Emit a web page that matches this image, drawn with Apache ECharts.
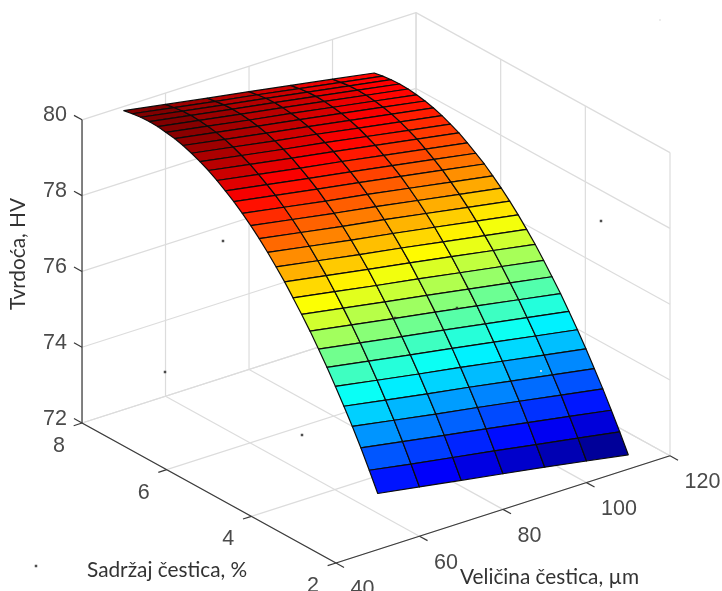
<!DOCTYPE html>
<html><head><meta charset="utf-8">
<style>html,body{margin:0;padding:0;background:#fff}#c{width:722px;height:591px;filter:blur(0.45px)}</style>
<script src="https://cdn.jsdelivr.net/npm/echarts@6/dist/echarts.min.js"></script>
</head><body><div id="c"></div>
<script>
// Data
const sizeTicks = [40, 60, 80, 100, 120];
const contentTicks = [2, 4, 6, 8];
const hardnessTicks = [72, 74, 76, 78, 80];
const sizeName = 'Veličina čestica, µm';
const contentName = 'Sadržaj čestica, %';
const hardnessName = 'Tvrdoća, HV';
const sizes = [50, 60, 70, 80, 90, 100, 110];
const contents = [8,7.8,7.6,7.4,7.2,7,6.8,6.6,6.4,6.2,6,5.8,5.6,5.4,5.2,5,4.8,4.6,4.4,4.2,4,3.8,3.6,3.4,3.2,3,2.8,2.6,2.4,2.2,2];
const hardnessAt50 = [79.89,79.93,79.96,79.97,79.96,79.93,79.89,79.83,79.75,79.65,79.54,79.40,79.25,79.09,78.90,78.70,78.48,78.24,77.98,77.71,77.41,77.10,76.78,76.43,76.07,75.69,75.29,74.88,74.44,73.97,73.48];
const hardnessAt60 = [79.70,79.74,79.77,79.78,79.77,79.74,79.70,79.64,79.56,79.46,79.35,79.21,79.06,78.90,78.71,78.51,78.29,78.05,77.79,77.52,77.22,76.91,76.59,76.24,75.88,75.50,75.10,74.69,74.25,73.78,73.30];
const hardnessAt70 = [79.51,79.55,79.58,79.59,79.58,79.55,79.51,79.45,79.37,79.27,79.16,79.02,78.87,78.71,78.52,78.32,78.10,77.86,77.60,77.33,77.03,76.72,76.40,76.05,75.69,75.31,74.91,74.50,74.06,73.60,73.12];
const hardnessAt80 = [79.33,79.37,79.40,79.41,79.40,79.37,79.33,79.27,79.19,79.09,78.98,78.84,78.69,78.53,78.34,78.14,77.92,77.68,77.42,77.15,76.85,76.54,76.22,75.87,75.51,75.13,74.73,74.32,73.88,73.42,72.94];
const hardnessAt90 = [79.14,79.18,79.21,79.22,79.21,79.18,79.14,79.08,79.00,78.90,78.79,78.65,78.50,78.34,78.15,77.95,77.73,77.49,77.23,76.96,76.66,76.35,76.03,75.68,75.32,74.94,74.54,74.13,73.69,73.23,72.76];
const hardnessAt100 = [78.95,78.99,79.02,79.03,79.02,78.99,78.95,78.89,78.81,78.71,78.60,78.46,78.31,78.15,77.96,77.76,77.54,77.30,77.04,76.77,76.47,76.16,75.84,75.49,75.13,74.75,74.35,73.94,73.50,73.05,72.57];
const hardnessAt110 = [78.76,78.80,78.83,78.84,78.83,78.80,78.76,78.70,78.62,78.52,78.41,78.27,78.12,77.96,77.77,77.57,77.35,77.11,76.85,76.58,76.28,75.97,75.65,75.30,74.94,74.56,74.16,73.75,73.31,72.86,72.38];
const hardness = [hardnessAt50, hardnessAt60, hardnessAt70, hardnessAt80, hardnessAt90, hardnessAt100, hardnessAt110];

// Stray measured points visible on the picture, in plane coordinates
const measuredDotsDark = [[223,241],[165,372],[302,435],[36,566],[601,221],[457,308],[395,318]];
const measuredDotsPale = [[541,371],[660,20]];

// Oblique projection of (size, content, hardness) on to the hidden plane axes
function project(x, y, z) {
  return [
    336 + (x - 40) * 4.175 - (y - 2) * 42.33,
    563 - (x - 40) * 1.34 - (y - 2) * 23.33 - (z - 72) * 37.9
  ];
}
const X0 = sizeTicks[0], X1 = sizeTicks[sizeTicks.length - 1];
const Y0 = contentTicks[0], Y1 = contentTicks[contentTicks.length - 1];
const Z0 = hardnessTicks[0], Z1 = hardnessTicks[hardnessTicks.length - 1];

const all = hardness.flat();
const zMin = Math.min(...all), zMax = Math.max(...all);
function jet(v) {
  const t = (v - zMin) / (zMax - zMin);
  const c = a => Math.round(255 * Math.max(0, Math.min(1, 1.5 - Math.abs(4 * t - a))));
  return `rgb(${c(3)},${c(2)},${c(1)})`;
}

// Light box grid lines
const gridSegs = [];
hardnessTicks.forEach(z => {
  gridSegs.push([[X0, Y1, z], [X1, Y1, z]]);
  gridSegs.push([[X1, Y1, z], [X1, Y0, z]]);
});
sizeTicks.forEach(x => {
  gridSegs.push([[x, Y1, Z0], [x, Y1, Z1]]);
  gridSegs.push([[x, Y1, Z0], [x, Y0, Z0]]);
});
contentTicks.forEach(y => {
  gridSegs.push([[X1, y, Z0], [X1, y, Z1]]);
  gridSegs.push([[X0, y, Z0], [X1, y, Z0]]);
});

// Dark axis lines and ticks
const axisSegs = [
  [[X0, Y1, Z0], [X0, Y1, Z1]],
  [[X0, Y1, Z0], [X0, Y0, Z0]],
  [[X0, Y0, Z0], [X1, Y0, Z0]]
];
hardnessTicks.forEach(z => axisSegs.push([[X0, Y1, z], [X0, Y1 + 0.19, z]]));
contentTicks.forEach(y => axisSegs.push([[X0, y, Z0], [X0 - 2, y, Z0]]));
sizeTicks.forEach(x => axisSegs.push([[x, Y0, Z0], [x, Y0 - 0.19, Z0]]));

function segSeries(segs, color, width, z) {
  return {
    type: 'custom', coordinateSystem: 'cartesian2d', silent: true, animation: false, clip: false, z,
    data: segs.map((s, i) => [i]),
    encode: { x: [], y: [] },
    renderItem(params, api) {
      const s = segs[api.value(0)];
      const a = api.coord(project(...s[0])), b = api.coord(project(...s[1]));
      return { type: 'line', shape: { x1: a[0], y1: a[1], x2: b[0], y2: b[1] }, style: { stroke: color, lineWidth: width } };
    }
  };
}

// Surface cells, back to front
const cells = [];
contents.slice(0, -1).forEach((_, i) => sizes.slice(0, -1).forEach((_, j) => cells.push([i, j])));
const surfaceSeries = {
  type: 'custom', coordinateSystem: 'cartesian2d', silent: true, animation: false, clip: false, z: 4,
  data: cells, encode: { x: [], y: [] },
  renderItem(params, api) {
    const i = api.value(0), j = api.value(1);
    const corner = (r, c) => api.coord(project(sizes[c], contents[r], hardness[c][r]));
    return {
      type: 'polygon',
      shape: { points: [corner(i, j), corner(i, j + 1), corner(i + 1, j + 1), corner(i + 1, j)] },
      style: { fill: jet(hardness[j][i + 1]), stroke: '#0c0c0c', lineWidth: 1.2, lineJoin: 'round' }
    };
  }
};

// Text
const tickFont = '21.5px "Liberation Sans"';
const nameFont = '"Lato"';
const texts = [];
hardnessTicks.forEach(z => texts.push({ p: project(X0, Y1, z), dx: -27, dy: -4.3, t: String(z), align: 'center', font: tickFont, fill: '#4a4a4a' }));
contentTicks.forEach(y => texts.push({ p: project(X0, y, Z0), dx: -23, dy: 23, t: String(y), align: 'center', font: tickFont, fill: '#4a4a4a' }));
sizeTicks.forEach(x => texts.push({ p: project(x, Y0, Z0), dx: 14.5, dy: 26.5, t: String(x), align: 'left', font: tickFont, fill: '#4a4a4a' }));
const textSeries = {
  type: 'custom', coordinateSystem: 'cartesian2d', silent: true, animation: false, clip: false, z: 6,
  data: texts.map((t, i) => [i]), encode: { x: [], y: [] },
  renderItem(params, api) {
    const t = texts[api.value(0)];
    const c = api.coord(t.p);
    return { type: 'text', style: { x: c[0] + t.dx, y: c[1] + t.dy, text: t.t, font: t.font, fill: t.fill, textAlign: t.align, textVerticalAlign: 'middle' } };
  }
};
function dots(data, color, size) {
  return { type: 'scatter', data, symbol: 'rect', symbolSize: size, itemStyle: { color }, silent: true, animation: false, z: 5, clip: false };
}

const chart = echarts.init(document.getElementById('c'), null, { renderer: 'canvas' });
chart.setOption({
  animation: false,
  backgroundColor: '#fff',
  grid: { left: 0, right: 0, top: 0, bottom: 0 },
  xAxis: { type: 'value', min: 0, max: 722, show: false },
  yAxis: { type: 'value', min: 0, max: 591, inverse: true, show: false },
  series: [
    segSeries(gridSegs, '#dcdcdc', 1.2, 1),
    segSeries(axisSegs, '#3a3a3a', 1.2, 2),
    surfaceSeries,
    dots(measuredDotsDark, '#222', 2.5),
    dots(measuredDotsPale, '#e8e8e8', 2),
    textSeries
  ],
  graphic: [
    { type: 'text', z: 10, left: 460, top: 567, style: { text: sizeName, font: '20.8px ' + nameFont, fill: '#333', backgroundColor: '#fff' } },
    { type: 'text', z: 10, left: 87, top: 560, style: { text: contentName, font: '20.8px ' + nameFont, fill: '#333' } },
    { type: 'text', z: 10, x: 18, y: 254, rotation: Math.PI / 2, style: { text: hardnessName, font: '20.8px ' + nameFont, fill: '#333', textAlign: 'center', textVerticalAlign: 'middle' } }
  ]
});
</script></body></html>
